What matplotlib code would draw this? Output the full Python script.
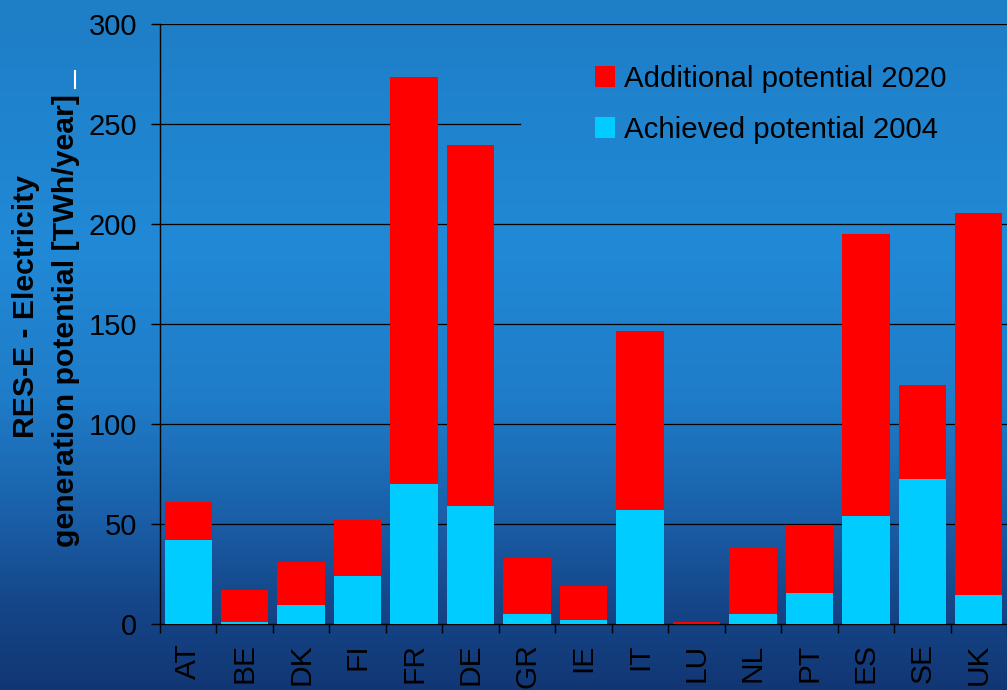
import numpy as np
import matplotlib
matplotlib.use('Agg')
import matplotlib.pyplot as plt
from matplotlib.colors import LinearSegmentedColormap
from matplotlib.lines import Line2D

plt.rcParams['font.family'] = ['Liberation Sans', 'DejaVu Sans']

# data (TWh/year)
countries = ['AT', 'BE', 'DK', 'FI', 'FR', 'DE', 'GR', 'IE', 'IT', 'LU', 'NL', 'PT', 'ES', 'SE', 'UK']
achieved_2004 = [42, 1, 9.5, 24, 70, 59, 5, 2, 57, 0.2, 5, 15.5, 54, 72.5, 14.5]
total_2020 = [61, 17, 31, 52, 273.5, 239.5, 33, 19, 146.5, 1, 38, 49.5, 195, 119.5, 205.5]
additional_2020 = [t - a for t, a in zip(total_2020, achieved_2004)]
yticks = [0, 50, 100, 150, 200, 250, 300]

W, H = 1007, 690
fig = plt.figure(figsize=(W / 100, H / 100), dpi=100)

# blue gradient background
bg = fig.add_axes([0, 0, 1, 1], zorder=-10)
cmap = LinearSegmentedColormap.from_list('bg', [
    (0.0, '#1E7EC6'), (0.36, '#2189D6'), (0.58, '#1F7CC8'),
    (0.75, '#1A5FA8'), (0.87, '#15478A'), (1.0, '#123674')])
grad = np.linspace(0, 1, 256).reshape(-1, 1)
bg.imshow(grad, aspect='auto', cmap=cmap, extent=[0, 1, 0, 1], origin='upper')
bg.axis('off')

ax = fig.add_axes([160 / W, 66 / H, 1 - 160 / W, 600 / H])
ax.patch.set_alpha(0)

x = np.arange(len(countries))
ax.bar(x, achieved_2004, width=0.84, color='#00CCFF', label='Achieved potential 2004', zorder=3)
ax.bar(x, additional_2020, width=0.84, bottom=achieved_2004, color='#FF0000',
       label='Additional potential 2020', zorder=3)

# horizontal gridlines (the 250 line is hidden behind the legend box)
for v in yticks[1:]:
    ax.axhline(v, color='black', lw=0.9, zorder=1, xmax=0.425 if v == 250 else 1)

ax.set_xlim(-0.5, len(countries) - 0.5)
ax.set_ylim(0, 300)
ax.set_yticks(yticks)
ax.set_xticks(x)
ax.set_xticklabels(countries, rotation=90, fontsize=21.5)
ax.set_xticks(np.arange(-0.5, len(countries)), minor=True)
ax.tick_params(axis='x', which='major', length=0, pad=14)
ax.tick_params(axis='x', which='minor', length=6.5, width=1, color='black')
ax.tick_params(axis='y', length=6.5, width=1, labelsize=21, pad=10)
for s in ['top', 'right']:
    ax.spines[s].set_visible(False)
for s in ['left', 'bottom']:
    ax.spines[s].set_color('black')
    ax.spines[s].set_linewidth(1)

handles, labels = ax.get_legend_handles_labels()
ax.legend(handles[::-1], labels[::-1], loc='upper left', bbox_to_anchor=(0.513, 0.932),
          frameon=False, fontsize=21.2, handlelength=0.7, handleheight=0.7,
          handletextpad=0.3, labelspacing=0.79, borderpad=0, borderaxespad=0)

# two-line y label, drawn as two texts
fig.text(26 / W, 1 - 307 / H, 'RES-E - Electricity', rotation=90, ha='center', va='center',
         fontsize=21.8, fontweight='bold')
fig.text(66 / W, 1 - 547 / H, 'generation potential [TWh/year]', rotation=90, ha='center',
         va='bottom', fontsize=21.8, fontweight='bold')
fig.add_artist(Line2D([75 / W, 75 / W], [1 - 71 / H, 1 - 88 / H], color='white', lw=1.5))

fig.savefig('out.png', dpi=100)
